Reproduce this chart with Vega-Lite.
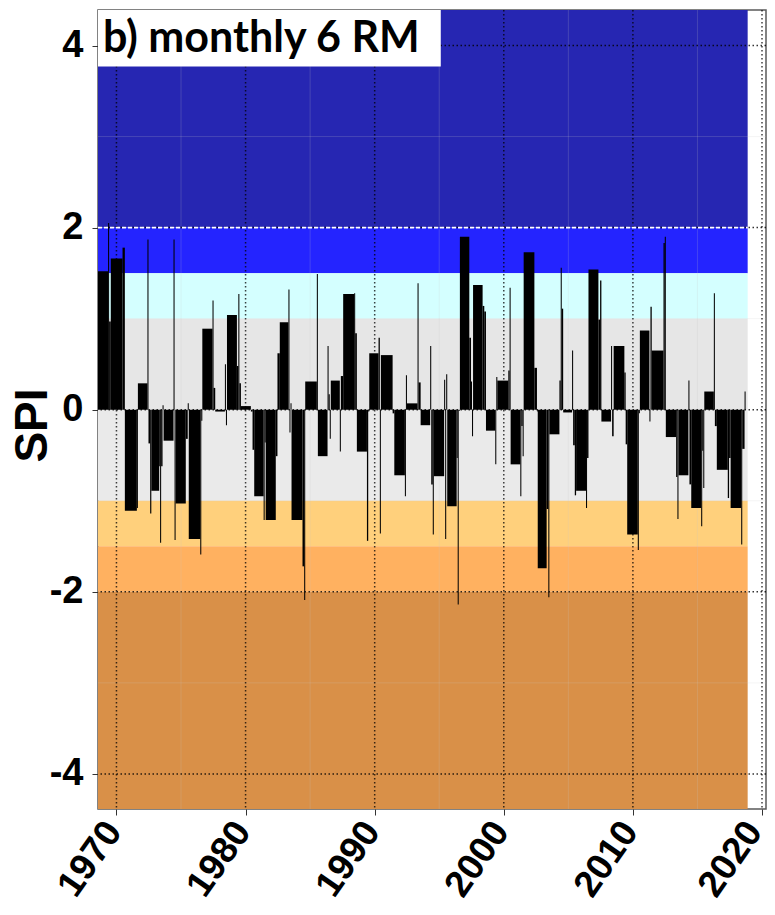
{
  "$schema": "https://vega.github.io/schema/vega-lite/v6.json",
  "autosize": {"type": "none"},
  "padding": {"left": 98, "top": 10, "right": 9, "bottom": 106},
  "width": 668,
  "height": 799,
  "background": "white",
  "config": {
    "view": {"stroke": "#5a5a5a", "strokeWidth": 1.5},
    "axis": {
      "labelFont": "Liberation Sans",
      "labelFontWeight": "bold",
      "labelColor": "black",
      "titleFont": "Liberation Sans",
      "titleFontWeight": "bold",
      "titleColor": "black",
      "tickColor": "#333333",
      "tickWidth": 1,
      "tickSize": 6,
      "domain": false,
      "grid": false
    }
  },
  "datasets": {
    "bands": [
      {"cls": "extremely wet", "lo": 2, "hi": 4.6},
      {"cls": "very wet", "lo": 1.5, "hi": 2},
      {"cls": "moderately wet", "lo": 1, "hi": 1.5},
      {"cls": "near normal wet", "lo": 0, "hi": 1},
      {"cls": "near normal dry", "lo": -1, "hi": 0},
      {"cls": "moderately dry", "lo": -1.5, "hi": -1},
      {"cls": "severely dry", "lo": -2, "hi": -1.5},
      {"cls": "extremely dry", "lo": -4.6, "hi": -2}
    ],
    "spi6": [
      {"start": 1968.57, "end": 1969.35, "spi": 1.52},
      {"start": 1969.35, "end": 1969.43, "spi": 2.05},
      {"start": 1969.43, "end": 1969.56, "spi": 0.97},
      {"start": 1969.56, "end": 1970.47, "spi": 1.66},
      {"start": 1970.47, "end": 1970.65, "spi": 1.78},
      {"start": 1970.65, "end": 1971.58, "spi": -1.11},
      {"start": 1971.58, "end": 1971.66, "spi": -1.08},
      {"start": 1971.66, "end": 1972.40, "spi": 0.29},
      {"start": 1972.40, "end": 1972.48, "spi": 1.87},
      {"start": 1972.48, "end": 1972.61, "spi": -0.37},
      {"start": 1972.61, "end": 1972.70, "spi": -1.14},
      {"start": 1972.70, "end": 1973.31, "spi": -0.89},
      {"start": 1973.31, "end": 1973.38, "spi": -0.62},
      {"start": 1973.38, "end": 1973.46, "spi": -1.46},
      {"start": 1973.46, "end": 1973.57, "spi": -0.62},
      {"start": 1973.57, "end": 1973.65, "spi": 0.05},
      {"start": 1973.65, "end": 1974.42, "spi": -0.34},
      {"start": 1974.42, "end": 1974.50, "spi": 1.87},
      {"start": 1974.50, "end": 1974.58, "spi": -1.43},
      {"start": 1974.58, "end": 1975.37, "spi": -1.03},
      {"start": 1975.37, "end": 1975.52, "spi": -0.32},
      {"start": 1975.52, "end": 1975.60, "spi": 0.07},
      {"start": 1975.60, "end": 1976.49, "spi": -1.42},
      {"start": 1976.49, "end": 1976.57, "spi": -1.59},
      {"start": 1976.57, "end": 1976.65, "spi": -0.12},
      {"start": 1976.65, "end": 1977.44, "spi": 0.89},
      {"start": 1977.44, "end": 1977.52, "spi": 1.20},
      {"start": 1977.52, "end": 1977.65, "spi": 0.24},
      {"start": 1977.65, "end": 1978.40, "spi": -0.02},
      {"start": 1978.40, "end": 1978.48, "spi": 0.50},
      {"start": 1978.48, "end": 1978.56, "spi": -0.17},
      {"start": 1978.56, "end": 1979.33, "spi": 1.04},
      {"start": 1979.33, "end": 1979.44, "spi": 0.48},
      {"start": 1979.44, "end": 1979.52, "spi": 1.27},
      {"start": 1979.52, "end": 1979.64, "spi": 0.29},
      {"start": 1979.64, "end": 1980.41, "spi": 0.04},
      {"start": 1980.41, "end": 1980.54, "spi": -0.02},
      {"start": 1980.54, "end": 1980.67, "spi": -0.44},
      {"start": 1980.67, "end": 1981.40, "spi": -0.95},
      {"start": 1981.40, "end": 1981.48, "spi": -1.21},
      {"start": 1981.48, "end": 1981.56, "spi": -0.36},
      {"start": 1981.56, "end": 1982.34, "spi": -1.21},
      {"start": 1982.34, "end": 1982.47, "spi": -0.51},
      {"start": 1982.47, "end": 1982.65, "spi": 0.62},
      {"start": 1982.65, "end": 1983.32, "spi": 0.96},
      {"start": 1983.32, "end": 1983.40, "spi": 1.32},
      {"start": 1983.40, "end": 1983.48, "spi": -0.25},
      {"start": 1983.48, "end": 1983.56, "spi": 0.07},
      {"start": 1983.56, "end": 1984.41, "spi": -1.21},
      {"start": 1984.41, "end": 1984.54, "spi": -1.72},
      {"start": 1984.54, "end": 1984.62, "spi": -2.09},
      {"start": 1984.62, "end": 1985.52, "spi": 0.31},
      {"start": 1985.52, "end": 1985.60, "spi": 1.49},
      {"start": 1985.60, "end": 1986.35, "spi": -0.51},
      {"start": 1986.35, "end": 1986.43, "spi": 0.70},
      {"start": 1986.43, "end": 1986.52, "spi": 0.17},
      {"start": 1986.52, "end": 1986.60, "spi": -0.32},
      {"start": 1986.60, "end": 1987.30, "spi": 0.32},
      {"start": 1987.30, "end": 1987.38, "spi": -0.46},
      {"start": 1987.38, "end": 1987.56, "spi": 0.37},
      {"start": 1987.56, "end": 1988.41, "spi": 1.27},
      {"start": 1988.41, "end": 1988.49, "spi": 1.28},
      {"start": 1988.49, "end": 1988.62, "spi": 0.84},
      {"start": 1988.62, "end": 1989.40, "spi": -0.46},
      {"start": 1989.40, "end": 1989.50, "spi": -1.44},
      {"start": 1989.50, "end": 1989.58, "spi": -0.02},
      {"start": 1989.58, "end": 1990.30, "spi": 0.62},
      {"start": 1990.30, "end": 1990.40, "spi": 0.79},
      {"start": 1990.40, "end": 1990.48, "spi": -1.36},
      {"start": 1990.48, "end": 1991.39, "spi": 0.60},
      {"start": 1991.39, "end": 1991.52, "spi": -0.04},
      {"start": 1991.52, "end": 1992.34, "spi": -0.72},
      {"start": 1992.34, "end": 1992.42, "spi": -0.95},
      {"start": 1992.42, "end": 1992.50, "spi": 0.38},
      {"start": 1992.50, "end": 1993.32, "spi": 0.07},
      {"start": 1993.32, "end": 1993.40, "spi": 1.39},
      {"start": 1993.40, "end": 1993.56, "spi": 0.30},
      {"start": 1993.56, "end": 1994.30, "spi": -0.17},
      {"start": 1994.30, "end": 1994.38, "spi": 0.70},
      {"start": 1994.38, "end": 1994.50, "spi": -0.82},
      {"start": 1994.50, "end": 1994.58, "spi": -1.37},
      {"start": 1994.58, "end": 1995.38, "spi": -0.73},
      {"start": 1995.38, "end": 1995.46, "spi": 0.33},
      {"start": 1995.46, "end": 1995.54, "spi": -1.42},
      {"start": 1995.54, "end": 1995.62, "spi": 0.39},
      {"start": 1995.62, "end": 1996.35, "spi": -1.06},
      {"start": 1996.35, "end": 1996.43, "spi": -0.53},
      {"start": 1996.43, "end": 1996.51, "spi": -2.14},
      {"start": 1996.51, "end": 1996.60, "spi": -0.01},
      {"start": 1996.60, "end": 1997.33, "spi": 1.90},
      {"start": 1997.33, "end": 1997.46, "spi": 0.79},
      {"start": 1997.46, "end": 1997.54, "spi": 0.31},
      {"start": 1997.54, "end": 1997.62, "spi": -0.29},
      {"start": 1997.62, "end": 1998.36, "spi": 1.37},
      {"start": 1998.36, "end": 1998.49, "spi": 1.14},
      {"start": 1998.49, "end": 1998.62, "spi": 1.08},
      {"start": 1998.62, "end": 1999.34, "spi": -0.23},
      {"start": 1999.34, "end": 1999.42, "spi": -0.60},
      {"start": 1999.42, "end": 1999.50, "spi": 0.36},
      {"start": 1999.50, "end": 2000.35, "spi": 0.32},
      {"start": 2000.35, "end": 2000.45, "spi": 0.43},
      {"start": 2000.45, "end": 2000.53, "spi": 1.34},
      {"start": 2000.53, "end": 2001.28, "spi": -0.60},
      {"start": 2001.28, "end": 2001.36, "spi": -0.95},
      {"start": 2001.36, "end": 2001.46, "spi": -0.18},
      {"start": 2001.46, "end": 2001.54, "spi": -0.51},
      {"start": 2001.54, "end": 2002.37, "spi": 1.73},
      {"start": 2002.37, "end": 2002.57, "spi": 0.46},
      {"start": 2002.57, "end": 2002.63, "spi": -0.02},
      {"start": 2002.63, "end": 2003.32, "spi": -1.74},
      {"start": 2003.32, "end": 2003.45, "spi": -1.09},
      {"start": 2003.45, "end": 2003.53, "spi": -2.06},
      {"start": 2003.53, "end": 2004.31, "spi": -0.27},
      {"start": 2004.31, "end": 2004.41, "spi": 0.32},
      {"start": 2004.41, "end": 2004.49, "spi": 1.56},
      {"start": 2004.49, "end": 2004.60, "spi": 1.11},
      {"start": 2004.60, "end": 2005.29, "spi": -0.03},
      {"start": 2005.29, "end": 2005.37, "spi": 0.65},
      {"start": 2005.37, "end": 2005.50, "spi": -0.39},
      {"start": 2005.50, "end": 2005.60, "spi": -0.94},
      {"start": 2005.60, "end": 2006.37, "spi": -0.89},
      {"start": 2006.37, "end": 2006.45, "spi": -1.08},
      {"start": 2006.45, "end": 2006.56, "spi": -0.53},
      {"start": 2006.56, "end": 2007.33, "spi": 1.54},
      {"start": 2007.33, "end": 2007.46, "spi": 0.99},
      {"start": 2007.46, "end": 2007.56, "spi": 1.42},
      {"start": 2007.56, "end": 2008.31, "spi": -0.13},
      {"start": 2008.31, "end": 2008.39, "spi": 0.70},
      {"start": 2008.39, "end": 2008.51, "spi": -0.29},
      {"start": 2008.51, "end": 2009.34, "spi": 0.70},
      {"start": 2009.34, "end": 2009.44, "spi": 0.41},
      {"start": 2009.44, "end": 2009.56, "spi": -0.38},
      {"start": 2009.56, "end": 2010.38, "spi": -1.37},
      {"start": 2010.38, "end": 2010.46, "spi": -1.54},
      {"start": 2010.46, "end": 2010.54, "spi": -0.04},
      {"start": 2010.54, "end": 2011.28, "spi": 0.87},
      {"start": 2011.28, "end": 2011.36, "spi": -0.13},
      {"start": 2011.36, "end": 2011.46, "spi": 1.13},
      {"start": 2011.46, "end": 2012.37, "spi": 0.65},
      {"start": 2012.37, "end": 2012.47, "spi": 1.83},
      {"start": 2012.47, "end": 2012.55, "spi": 1.90},
      {"start": 2012.55, "end": 2013.35, "spi": -0.30},
      {"start": 2013.35, "end": 2013.45, "spi": -0.74},
      {"start": 2013.45, "end": 2013.53, "spi": -1.20},
      {"start": 2013.53, "end": 2014.30, "spi": -0.72},
      {"start": 2014.30, "end": 2014.38, "spi": 0.32},
      {"start": 2014.38, "end": 2014.52, "spi": -0.82},
      {"start": 2014.52, "end": 2015.29, "spi": -1.08},
      {"start": 2015.29, "end": 2015.37, "spi": -1.28},
      {"start": 2015.37, "end": 2015.45, "spi": -0.45},
      {"start": 2015.45, "end": 2015.53, "spi": -0.86},
      {"start": 2015.53, "end": 2016.27, "spi": 0.20},
      {"start": 2016.27, "end": 2016.35, "spi": 1.28},
      {"start": 2016.35, "end": 2016.50, "spi": -0.18},
      {"start": 2016.50, "end": 2017.35, "spi": -0.66},
      {"start": 2017.35, "end": 2017.45, "spi": -0.97},
      {"start": 2017.45, "end": 2017.57, "spi": -0.53},
      {"start": 2017.57, "end": 2018.39, "spi": -1.08},
      {"start": 2018.39, "end": 2018.47, "spi": -1.48},
      {"start": 2018.47, "end": 2018.65, "spi": -0.43},
      {"start": 2018.65, "end": 2018.73, "spi": 0.20}
    ],
    "decades": [{"yr": 1970}, {"yr": 1980}, {"yr": 1990}, {"yr": 2000}, {"yr": 2010}, {"yr": 2020}],
    "halfDecades": [{"yr": 1975}, {"yr": 1985}, {"yr": 1995}, {"yr": 2005}, {"yr": 2015}],
    "majorLevels": [{"lvl": -4}, {"lvl": -2}, {"lvl": 0}, {"lvl": 2}, {"lvl": 4}],
    "minorLevels": [{"lvl": -3}, {"lvl": -1}, {"lvl": 1}, {"lvl": 3}]
  },
  "layer": [
    {
      "data": {"name": "spi6"},
      "mark": {"type": "rect", "opacity": 0},
      "encoding": {
        "x": {
          "field": "start",
          "type": "quantitative",
          "scale": {"domain": [1968.57, 2020.31], "nice": false, "zero": false},
          "axis": {
            "values": [1970, 1980, 1990, 2000, 2010, 2020],
            "format": "d",
            "labelAngle": -55,
            "labelAlign": "right",
            "labelBaseline": "middle",
            "labelFontSize": 37,
            "labelPadding": 10,
            "labelOffset": {"condition": {"test": "datum.value >= 2020", "value": -8}, "value": -3},
            "labelFlush": false,
            "labelOverlap": false,
            "title": null
          }
        },
        "x2": {"field": "end"},
        "y": {
          "field": "spi",
          "type": "quantitative",
          "scale": {"domain": [-4.385, 4.39], "nice": false, "zero": false},
          "axis": {
            "values": [-4, -2, 0, 2, 4],
            "labelExpr": "datum.value < 0 ? '-' + abs(datum.value) : '' + datum.value",
            "labelFontSize": 38,
            "labelPadding": 9,
            "labelFlush": false,
            "labelOverlap": false,
            "title": "SPI",
            "titleFontSize": 46,
            "titleAngle": -90,
            "titleX": -66,
            "titleY": 415,
            "titleAlign": "center",
            "titleBaseline": "middle"
          }
        },
        "y2": {"datum": 0}
      }
    },
    {
      "data": {"name": "bands"},
      "mark": {"type": "rect", "clip": true},
      "encoding": {
        "x": {"datum": 1968.4, "type": "quantitative"},
        "x2": {"datum": 2018.89},
        "y": {"field": "lo", "type": "quantitative"},
        "y2": {"field": "hi"},
        "color": {
          "field": "cls",
          "type": "nominal",
          "legend": null,
          "scale": {
            "domain": ["extremely wet", "very wet", "moderately wet", "near normal wet", "near normal dry", "moderately dry", "severely dry", "extremely dry"],
            "range": ["#2626B2", "#2424FF", "#D4FFFF", "#E6E6E6", "#EAEAEA", "#FFD07C", "#FFB160", "#D99048"]
          }
        }
      }
    },
    {
      "data": {"name": "halfDecades"},
      "mark": {"type": "rule", "color": "#c8c8c8", "strokeWidth": 1, "opacity": 0.2},
      "encoding": {"x": {"field": "yr", "type": "quantitative"}}
    },
    {
      "data": {"name": "minorLevels"},
      "mark": {"type": "rule", "color": "#c8c8c8", "strokeWidth": 1, "opacity": 0.2},
      "encoding": {"y": {"field": "lvl", "type": "quantitative"}}
    },
    {
      "data": {"name": "decades"},
      "mark": {"type": "rule", "color": "black", "strokeWidth": 1.5, "strokeDash": [1.5, 2.5], "opacity": 0.75},
      "encoding": {"x": {"field": "yr", "type": "quantitative"}}
    },
    {
      "data": {"name": "majorLevels"},
      "mark": {"type": "rule", "color": "black", "strokeWidth": 1.5, "strokeDash": [1.5, 2.5], "opacity": 0.8},
      "encoding": {"y": {"field": "lvl", "type": "quantitative"}}
    },
    {
      "data": {"values": [{}]},
      "mark": {"type": "rule", "color": "white", "strokeWidth": 1.6, "strokeDash": [4, 2]},
      "encoding": {
        "x": {"datum": 1968.57, "type": "quantitative"},
        "x2": {"datum": 2018.89},
        "y": {"datum": 2, "type": "quantitative"}
      }
    },
    {
      "data": {"name": "spi6"},
      "mark": {"type": "rect", "color": "black", "clip": true},
      "encoding": {
        "x": {"field": "start", "type": "quantitative"},
        "x2": {"field": "end"},
        "y": {"field": "spi", "type": "quantitative"},
        "y2": {"datum": 0}
      }
    },
    {
      "data": {"values": [{}]},
      "mark": {"type": "rect", "color": "white"},
      "encoding": {
        "x": {"datum": 1968.57, "type": "quantitative"},
        "x2": {"datum": 1995.12},
        "y": {"datum": 3.77, "type": "quantitative"},
        "y2": {"datum": 4.39}
      }
    },
    {
      "data": {"values": [{"label": "b) monthly 6 RM"}]},
      "mark": {"type": "text", "font": "Lato", "fontWeight": "bold", "fontSize": 43, "align": "left", "baseline": "alphabetic", "color": "black"},
      "encoding": {
        "x": {"datum": 1968.95, "type": "quantitative"},
        "y": {"datum": 3.93, "type": "quantitative"},
        "text": {"field": "label"}
      }
    }
  ]
}
